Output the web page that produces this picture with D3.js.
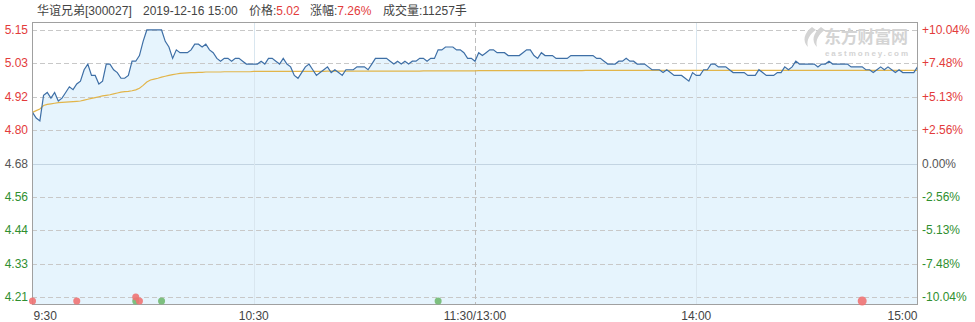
<!DOCTYPE html>
<html>
<head>
<meta charset="utf-8">
<script src="https://cdn.jsdelivr.net/npm/d3@7"></script>
<style>
  body { margin: 0; background: #fff; }
  text { font-family: Arial, "Liberation Sans", "Noto Sans CJK SC", sans-serif; }
</style>
</head>
<body>
<script>
// dati: prezzo minuto per minuto (241 punti, 9:30-11:30 / 13:00-15:00)
var prices = [
  4.86, 4.84, 4.83, 4.92, 4.93, 4.91, 4.93, 4.90, 4.91, 4.93,
  4.95, 4.94, 4.96, 4.97, 5.01, 5.03, 4.99, 4.99, 4.96, 4.97,
  5.03, 5.03, 5.01, 5.00, 4.98, 4.98, 4.99, 5.04, 5.04, 5.06,
  5.11, 5.15, 5.15, 5.15, 5.15, 5.15, 5.11, 5.09, 5.05, 5.08,
  5.07, 5.07, 5.07, 5.08, 5.10, 5.10, 5.09, 5.10, 5.08, 5.07,
  5.05, 5.04, 5.05, 5.05, 5.04, 5.05, 5.05, 5.04, 5.03, 5.03,
  5.03, 5.03, 5.04, 5.03, 5.05, 5.05, 5.04, 5.03, 5.05, 5.03,
  5.02, 4.99, 4.98, 5.00, 5.02, 5.03, 5.01, 4.99, 5.00, 5.01,
  5.02, 5.00, 5.01, 5.00, 4.99, 5.01, 5.01, 5.01, 5.02, 5.02,
  5.02, 5.01, 5.03, 5.05, 5.05, 5.05, 5.05, 5.04, 5.03, 5.04,
  5.03, 5.04, 5.03, 5.04, 5.04, 5.05, 5.05, 5.04, 5.05, 5.05,
  5.08, 5.08, 5.09, 5.09, 5.09, 5.08, 5.08, 5.07, 5.05, 5.05,
  5.04, 5.07, 5.06, 5.07, 5.08, 5.08, 5.07, 5.07, 5.07, 5.06,
  5.06, 5.06, 5.06, 5.07, 5.08, 5.08, 5.06, 5.05, 5.07, 5.06,
  5.06, 5.06, 5.05, 5.05, 5.05, 5.05, 5.06, 5.06, 5.06, 5.06,
  5.06, 5.06, 5.06, 5.05, 5.05, 5.04, 5.03, 5.03, 5.03, 5.04,
  5.04, 5.05, 5.04, 5.04, 5.03, 5.03, 5.03, 5.02, 5.01, 5.01,
  5.01, 5.00, 5.01, 5.00, 4.99, 4.99, 4.99, 4.98, 4.97, 5.00,
  4.99, 4.99, 5.01, 5.01, 5.03, 5.03, 5.02, 5.02, 5.02, 5.01,
  5.00, 5.00, 5.00, 5.00, 4.99, 4.99, 4.99, 5.01, 5.00, 4.99,
  4.99, 4.99, 5.00, 5.00, 5.02, 5.01, 5.02, 5.04, 5.03, 5.03,
  5.03, 5.03, 5.03, 5.02, 5.03, 5.03, 5.04, 5.03, 5.03, 5.03,
  5.03, 5.03, 5.02, 5.02, 5.02, 5.02, 5.01, 5.01, 5.00, 5.01,
  5.02, 5.01, 5.02, 5.01, 5.00, 5.01, 5.00, 5.00, 5.00, 5.00,
  5.02
];

// prezzo medio (linea gialla)
var avgPrices = [
  4.860, 4.866, 4.872, 4.884, 4.888, 4.890, 4.892, 4.894, 4.895, 4.896,
  4.897, 4.898, 4.899, 4.900, 4.903, 4.906, 4.909, 4.912, 4.915, 4.918,
  4.920, 4.922, 4.925, 4.928, 4.931, 4.933, 4.934, 4.936, 4.939, 4.945,
  4.955, 4.967, 4.974, 4.977, 4.980, 4.984, 4.987, 4.990, 4.993, 4.995,
  4.997, 4.998, 4.999, 5.000, 5.000, 5.001, 5.001, 5.002, 5.002, 5.002,
  5.002, 5.002, 5.003, 5.003, 5.003, 5.003, 5.003, 5.003, 5.003, 5.003,
  5.004, 5.004, 5.004, 5.004, 5.004, 5.004, 5.004, 5.004, 5.004, 5.004,
  5.004, 5.004, 5.004, 5.004, 5.004, 5.004, 5.004, 5.004, 5.004, 5.004,
  5.005, 5.005, 5.005, 5.005, 5.005, 5.005, 5.005, 5.005, 5.005, 5.005,
  5.005, 5.005, 5.005, 5.005, 5.005, 5.005, 5.005, 5.005, 5.005, 5.005,
  5.005, 5.005, 5.005, 5.005, 5.005, 5.005, 5.006, 5.006, 5.006, 5.006,
  5.006, 5.006, 5.006, 5.006, 5.006, 5.006, 5.006, 5.006, 5.006, 5.006,
  5.006, 5.007, 5.007, 5.007, 5.007, 5.007, 5.007, 5.007, 5.007, 5.007,
  5.007, 5.007, 5.007, 5.007, 5.007, 5.007, 5.007, 5.007, 5.007, 5.007,
  5.007, 5.007, 5.007, 5.007, 5.007, 5.007, 5.007, 5.007, 5.007, 5.007,
  5.008, 5.008, 5.008, 5.008, 5.008, 5.008, 5.008, 5.008, 5.008, 5.008,
  5.008, 5.008, 5.008, 5.008, 5.008, 5.008, 5.008, 5.008, 5.008, 5.008,
  5.008, 5.008, 5.008, 5.008, 5.008, 5.008, 5.008, 5.008, 5.008, 5.008,
  5.008, 5.008, 5.008, 5.008, 5.008, 5.008, 5.008, 5.008, 5.008, 5.008,
  5.008, 5.008, 5.008, 5.008, 5.008, 5.008, 5.008, 5.008, 5.008, 5.008,
  5.008, 5.008, 5.008, 5.008, 5.008, 5.008, 5.008, 5.008, 5.008, 5.008,
  5.008, 5.008, 5.008, 5.008, 5.008, 5.008, 5.008, 5.008, 5.008, 5.008,
  5.008, 5.008, 5.008, 5.008, 5.008, 5.008, 5.008, 5.008, 5.008, 5.008,
  5.008, 5.008, 5.008, 5.008, 5.008, 5.008, 5.008, 5.008, 5.008, 5.008,
  5.008
];

// prezzo di chiusura precedente e ampiezza massima (+/- 10.04%)
const prevClose = 4.68;
const maxChange = 0.1004;

// etichette degli assi
var priceLabels = ["5.15", "5.03", "4.92", "4.80", "4.68", "4.56", "4.44", "4.33", "4.21"];
var pctLabels = ["+10.04%", "+7.48%", "+5.13%", "+2.56%", "0.00%", "-2.56%", "-5.13%", "-7.48%", "-10.04%"];
var timeTicks = [0, 60, 120, 180, 240];
var timeLabels = ["9:30", "10:30", "11:30/13:00", "14:00", "15:00"];

// segnali (grandi ordini) in basso: minuto e tipo
var signalMinutes = [0, 12, 28, 28, 29, 35, 110, 225];
var signalTypes = ["up", "up", "down", "up", "up", "down", "down", "upBig"];

// intestazione
var stockName = "华谊兄弟[300027]";
var stockTime = "2019-12-16 15:00";
var lastPrice = "5.02";
var lastChange = "7.26%";
var volume = "11257手";

const width = 975;
const height = 322;

// riquadro del grafico
const plot = { left: 32, right: 917, top: 22, bottom: 304 };

const RED = "#e33b3b";
const GREEN = "#2f8f2f";
const GRAY = "#555";

var xScale = d3.scaleLinear().domain([0, 240]).range([plot.left + 0.5, plot.right + 0.5]);
var yScale = d3.scaleLinear()
    .domain([prevClose * (1 - maxChange), prevClose * (1 + maxChange)])
    .range([plot.bottom - 7, plot.top + 8]);

var svg = d3.select("body")
    .append("svg")
    .attr("width", width)
    .attr("height", height);

// sfondo celeste sotto la linea
var area = d3.area()
    .x((d, i) => xScale(i))
    .y0(plot.bottom)
    .y1(d => yScale(d));

svg.append("path")
    .datum(prices)
    .attr("d", area)
    .attr("fill", "#e6f4fd");

// linee orizzontali della griglia
var dom = yScale.domain();
var levels = d3.range(9).map(i => dom[1] - i * (dom[1] - dom[0]) / 8);

svg.selectAll(".hgrid")
    .data(levels)
    .enter()
    .append("line")
    .attr("x1", plot.left)
    .attr("x2", plot.right)
    .attr("y1", d => Math.round(yScale(d)) + 0.5)
    .attr("y2", d => Math.round(yScale(d)) + 0.5)
    .attr("stroke", (d, i) => i == 4 ? "#c3d4e2" : "#c8c8c8")
    .attr("stroke-dasharray", (d, i) => i == 4 ? null : "5,3");

// linee verticali
svg.selectAll(".vgrid")
    .data(timeTicks.slice(1, 4))
    .enter()
    .append("line")
    .attr("x1", d => Math.round(xScale(d)) + 0.5)
    .attr("x2", d => Math.round(xScale(d)) + 0.5)
    .attr("y1", plot.top)
    .attr("y2", plot.bottom)
    .attr("stroke", d => d == 120 ? "#bdbdbd" : "#d9e6ef")
    .attr("stroke-dasharray", d => d == 120 ? "5,3" : null);

// watermark
var wm = svg.append("g").attr("fill", "#d4d4d4");
wm.append("path")
    .attr("d", "M812,27 C804,33 802,41 808,47 C806,40 810,34 816,30 Z M821,27 C813,33 811,41 817,47 C815,40 819,34 825,30 Z");
wm.append("text")
    .attr("x", 824)
    .attr("y", 43)
    .attr("font-size", 17)
    .attr("font-weight", "bold")
    .attr("textLength", 84)
    .style("font-family", "'Noto Sans CJK SC', sans-serif")
    .text("东方财富网");
wm.append("text")
    .attr("x", 825)
    .attr("y", 56)
    .attr("font-size", 8)
    .attr("font-weight", "bold")
    .attr("textLength", 83)
    .text("eastmoney.com");

// linea del prezzo medio
var avgLine = d3.line()
    .x((d, i) => xScale(i))
    .y(d => yScale(d));

svg.append("path")
    .datum(avgPrices)
    .attr("d", avgLine)
    .attr("fill", "none")
    .attr("stroke", "#e2b54a")
    .attr("stroke-width", 1.2);

// linea del prezzo
svg.append("path")
    .datum(prices)
    .attr("d", avgLine)
    .attr("fill", "none")
    .attr("stroke", "#3e6fa6")
    .attr("stroke-width", 1.2);

// bordo del riquadro
svg.append("rect")
    .attr("x", plot.left + 0.5)
    .attr("y", plot.top + 0.5)
    .attr("width", plot.right - plot.left)
    .attr("height", plot.bottom - plot.top)
    .attr("fill", "none")
    .attr("stroke", "#a0a0a0");

// segnali in basso, impilati se nello stesso minuto
var seen = {};
signalMinutes.forEach((m, i) => {
    var stack = seen[m] || 0;
    seen[m] = stack + 1;
    var t = signalTypes[i];
    svg.append("circle")
        .attr("cx", xScale(m))
        .attr("cy", yScale.range()[0] + 4 - stack * 4)
        .attr("r", t == "upBig" ? 4.5 : 3.5)
        .attr("fill", t == "down" ? "#71b971" : "#f07373")
        .attr("opacity", 0.9);
});

// etichette asse sinistro (prezzo)
svg.selectAll(".ylab")
    .data(levels)
    .enter()
    .append("text")
    .attr("x", 28)
    .attr("y", d => yScale(d) + 4)
    .attr("text-anchor", "end")
    .attr("font-size", 12)
    .attr("fill", (d, i) => i < 4 ? RED : (i == 4 ? GRAY : GREEN))
    .text((d, i) => priceLabels[i]);

// etichette asse destro (percentuale)
svg.selectAll(".pctlab")
    .data(levels)
    .enter()
    .append("text")
    .attr("x", 922)
    .attr("y", d => yScale(d) + 4)
    .attr("font-size", 12)
    .attr("fill", (d, i) => i < 4 ? RED : (i == 4 ? GRAY : GREEN))
    .text((d, i) => pctLabels[i]);

// etichette asse x
svg.selectAll(".xlab")
    .data(timeTicks)
    .enter()
    .append("text")
    .attr("x", (d, i) => i == 0 ? xScale(d) + 1 : xScale(d))
    .attr("y", 320)
    .attr("font-size", 12)
    .attr("fill", "#444")
    .attr("text-anchor", (d, i) => i == 0 ? "start" : (i == timeTicks.length - 1 ? "end" : "middle"))
    .text((d, i) => timeLabels[i]);

// intestazione in alto
var head = svg.append("g").attr("font-size", 12).attr("fill", "#444");
head.append("text").attr("x", 37).attr("y", 15).text(stockName);
head.append("text").attr("x", 143).attr("y", 15).text(stockTime);
var t1 = head.append("text").attr("x", 249).attr("y", 15);
t1.append("tspan").text("价格:");
t1.append("tspan").attr("fill", RED).text(lastPrice);
var t2 = head.append("text").attr("x", 310).attr("y", 15);
t2.append("tspan").text("涨幅:");
t2.append("tspan").attr("fill", RED).text(lastChange);
head.append("text").attr("x", 383).attr("y", 15).text("成交量:" + volume);
</script>
</body>
</html>
